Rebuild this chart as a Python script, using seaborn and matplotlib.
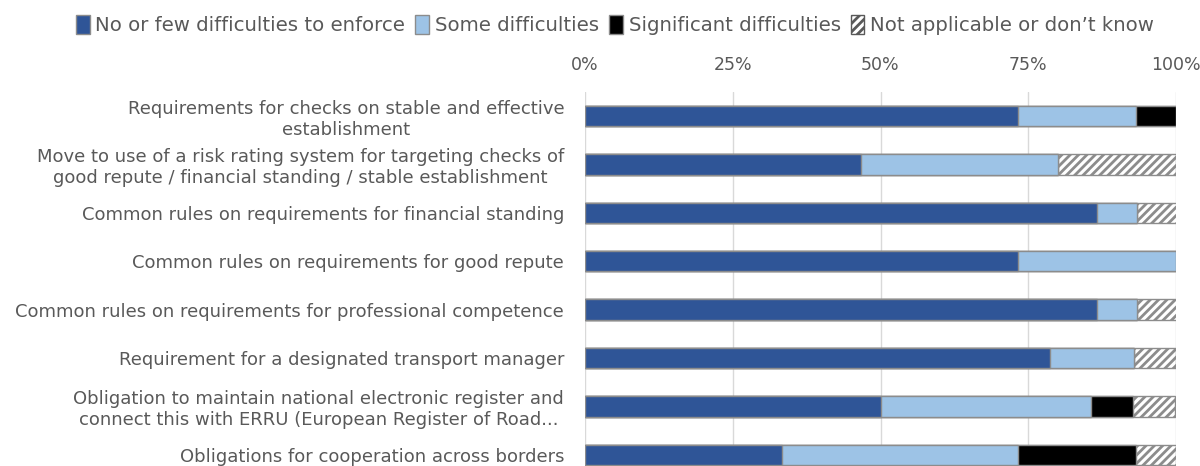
import matplotlib
matplotlib.use("Agg")
import matplotlib.pyplot as plt
import seaborn as sns
import pandas as pd
import numpy as np
from matplotlib.patches import Patch

categories = [
    "Requirements for checks on stable and effective\nestablishment",
    "Move to use of a risk rating system for targeting checks of\ngood repute / financial standing / stable establishment",
    "Common rules on requirements for financial standing",
    "Common rules on requirements for good repute",
    "Common rules on requirements for professional competence",
    "Requirement for a designated transport manager",
    "Obligation to maintain national electronic register and\nconnect this with ERRU (European Register of Road...",
    "Obligations for cooperation across borders",
]
no_few = [73.3, 46.7, 86.7, 73.3, 86.7, 78.6, 50.0, 33.3]
some = [20.0, 33.3, 6.7, 26.7, 6.7, 14.3, 35.7, 40.0]
significant = [6.7, 0.0, 0.0, 0.0, 0.0, 0.0, 7.1, 20.0]
not_applicable = [0.0, 20.0, 6.7, 0.0, 6.7, 7.1, 7.1, 6.7]

series_names = ["No or few difficulties to enforce", "Some difficulties",
                "Significant difficulties", "Not applicable or don\u2019t know"]
colors = ["#2F5597", "#9DC3E6", "#000000", "#FFFFFF"]

sns.set_theme(style="white")
plt.rcParams['font.family'] = ['DejaVu Sans']
plt.rcParams['hatch.color'] = '#595959'
plt.rcParams['hatch.linewidth'] = 2.0

df = pd.DataFrame({"category": categories, "a": no_few, "b": some,
                   "c": significant, "d": not_applicable})
cum = df[["a", "b", "c", "d"]].cumsum(axis=1)

fig = plt.figure(figsize=(12, 4.66), dpi=100)
ax = fig.add_axes([585/1200, -0.028, 591/1200, 0.831])

order_cols = ["d", "c", "b", "a"]
col_idx = {"a": 0, "b": 1, "c": 2, "d": 3}
for col in order_cols:
    i = col_idx[col]
    n_before = len(ax.patches)
    sns.barplot(x=cum[col], y=df["category"], color=colors[i], orient="h",
                width=0.42, ax=ax, edgecolor="#8C8C8C", linewidth=1.0,
                saturation=1)
    if col == "d":
        for p in ax.patches[n_before:]:
            p.set_hatch("////")

ax.set_xlim(0, 100)
ax.set_xticks([0, 25, 50, 75, 100])
ax.set_xticklabels(["0%", "25%", "50%", "75%", "100%"])
ax.xaxis.tick_top()
ax.tick_params(axis="x", colors="#595959", labelsize=12.5, length=0, pad=13)
ax.tick_params(axis="y", colors="#595959", labelsize=13.0, length=0, pad=15)
for lbl in ax.get_yticklabels():
    lbl.set_multialignment("center")
    lbl.set_linespacing(1.2)
ax.set_xlabel("")
ax.set_ylabel("")
ax.grid(axis="x", color="#D9D9D9", linewidth=1)
ax.set_axisbelow(True)
for s in ax.spines.values():
    s.set_visible(False)

handles = [Patch(facecolor=colors[0], edgecolor="#8C8C8C"),
           Patch(facecolor=colors[1], edgecolor="#8C8C8C"),
           Patch(facecolor=colors[2], edgecolor="#8C8C8C"),
           Patch(facecolor=colors[3], edgecolor="#595959", hatch="////")]
fig.legend(handles, series_names, loc="center", bbox_to_anchor=(615/1200, 1 - 25/466),
           ncol=4, frameon=False, fontsize=14.2, handlelength=0.7, handleheight=1.1,
           handletextpad=0.3, columnspacing=0.5, labelcolor="#595959")

fig.savefig("out.png", dpi=100)
